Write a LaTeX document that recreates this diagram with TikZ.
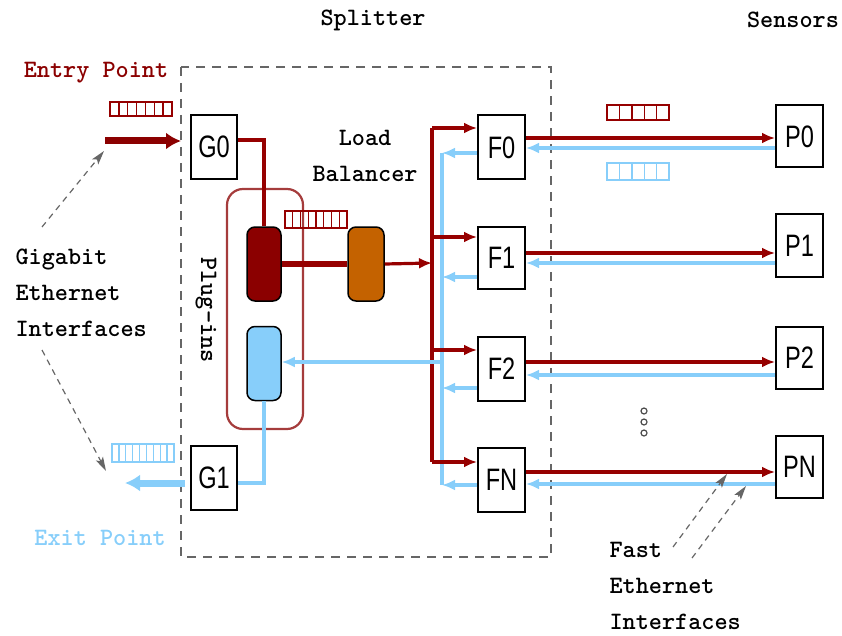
\documentclass[tikz,border=0pt]{standalone}
\usepackage{fontspec}
\usepackage{graphicx}
\setmainfont{Liberation Sans}
\newfontfamily\ttb[Extension=.otf]{lmmonolt10-bold}
\usetikzlibrary{arrows.meta,calc}
\definecolor{dred}{RGB}{150,0,0}
\definecolor{pred}{RGB}{139,0,0}
\definecolor{lblue}{RGB}{135,206,250}
\definecolor{lborange}{RGB}{196,98,0}
\definecolor{boxred}{RGB}{165,60,60}
\newcommand{\myqueue}[6]{%
  \draw[#6,line width=1.6pt] (#1,#2) rectangle (#3,#4);
  \foreach \k in {1,...,#5}{\draw[#6,line width=1.4pt] ({#1+(#3-#1)*\k/(#5+1)},#2) -- ({#1+(#3-#1)*\k/(#5+1)},#4);}}
\newcommand{\lbl}[1]{\scalebox{0.76}[1]{\fontsize{31}{31}\selectfont #1}}
\begin{document}
\begin{tikzpicture}[x=1pt,y=-1pt,
  ttext/.style={font=\ttb\fontsize{25}{36}\selectfont},
  unit/.style={draw=black,line width=2pt,fill=white,minimum width=46pt,minimum height=64pt,inner sep=0pt},
  plug/.style={draw=black,line width=1.5pt,rounded corners=8pt,minimum width=34pt,minimum height=74pt,inner sep=0pt},
  redl/.style={draw=dred,line width=3.2pt},
  bluel/.style={draw=lblue,line width=3.2pt},
  rarr/.style={redl,-{Latex[length=13pt,width=11pt]}},
  barr/.style={bluel,-{Latex[length=13pt,width=11pt]}},
  hint/.style={draw=gray!80!black,dashed,dash pattern=on 6pt off 5pt,line width=1.2pt,-{Stealth[length=14pt,width=8pt,inset=3pt]}}
]
\useasboundingbox (0,0) rectangle (842,636);
% titles
\node[ttext] (splt) at (373,20) {Splitter};
\node[ttext] (sens) at (793,20) {Sensors};
% splitter box
\draw[gray!80!black,line width=1.6pt,dash pattern=on 9pt off 7pt] (181,67) rectangle (551,557);
% plug-ins box
\draw[boxred,line width=2.2pt,rounded corners=16pt] (227,189) rectangle (303,429);
\node[ttext,rotate=-90] (plg) at (206,310) {Plug-ins};
% units
\node[unit] (G0) at (214,147) {\lbl{G0}};
\node[unit] (G1) at (214,478) {\lbl{G1}};
\node[unit,minimum width=47pt] (F0) at (501.5,147.5) {\lbl{F0}};
\node[unit,minimum width=47pt,minimum height=62pt] (F1) at (501.5,258) {\lbl{F1}};
\node[unit,minimum width=47pt] (F2) at (501.5,368.5) {\lbl{F2}};
\node[unit,minimum width=47pt] (FN) at (501.5,479.5) {\lbl{FN}};
\node[unit,minimum width=47pt,minimum height=62pt] (P0) at (799.5,136.5) {\lbl{P0}};
\node[unit,minimum width=47pt,minimum height=62pt] (P1) at (799.5,245.5) {\lbl{P1}};
\node[unit,minimum width=47pt,minimum height=62pt] (P2) at (799.5,358) {\lbl{P2}};
\node[unit,minimum width=47pt,minimum height=62pt] (PN) at (799.5,467) {\lbl{PN}};
% plug-ins and load balancer
\node[plug,fill=pred] (pr) at (264,264) {};
\node[plug,fill=lblue] (pb) at (264,363.5) {};
\node[plug,fill=lborange,minimum width=36pt] (lb) at (366,264) {};
\node[ttext,align=center] (lbt) at (365,156) {Load\\Balancer};
% queues
\myqueue{110}{102}{172}{116}{6}{dred}
\myqueue{285}{211}{347}{228}{7}{dred}
\myqueue{112}{444}{174}{462}{8}{lblue}
\myqueue{607}{105}{669}{120}{4}{dred}
\myqueue{607}{163}{669}{180}{4}{lblue}
% entry / exit
\coordinate (entry) at (105,141);
\coordinate (exitp) at (125,483);
\draw[draw=pred,line width=7pt,-{Latex[length=15pt,width=17pt]},shorten >=9pt] (entry) -- (G0.west |- entry);
\draw[draw=lblue,line width=7pt,-{Latex[length=15pt,width=17pt]}] ([xshift=-5pt]G1.west |- exitp) -- (exitp);
\node[ttext,text=pred] (ent) at (96,73) {Entry Point};
\node[ttext,text=lblue] (ext) at (100,538) {Exit Point};
% internal paths
\draw[redl] (G0.east |- 0,140) -| (pr.north);
\draw[draw=dred,line width=6pt] (pr.east) -- (lb.west);
\coordinate (rb) at (432,263);
\draw[rarr] (lb.east) -- (rb);
\draw[redl] (432,128) -- (432,462);
\draw[bluel] (442,153) -- (442,485);
\draw[rarr] (432,128) -- (F0.west |- 0,128);
\draw[rarr] (432,237) -- (F1.west |- 0,237);
\draw[rarr] (432,350) -- (F2.west |- 0,350);
\draw[rarr] (432,462) -- (FN.west |- 0,462);
\draw[barr] (F0.west |- 0,153) -- (442,153);
\draw[barr] (F1.west |- 0,277) -- (442,277);
\draw[barr] (F2.west |- 0,388) -- (442,388);
\draw[barr] (FN.west |- 0,485) -- (442,485);
\draw[barr] (442,362) -- (pb.east |- 0,362);
\draw[bluel] (pb.south) |- (G1.east |- 0,483);
% F <-> P links
\draw[rarr] (F0.east |- 0,138) -- (P0.west |- 0,138);
\draw[barr] (P0.west |- 0,148) -- (F0.east |- 0,148);
\draw[rarr] (F1.east |- 0,253) -- (P1.west |- 0,253);
\draw[barr] (P1.west |- 0,263) -- (F1.east |- 0,263);
\draw[rarr] (F2.east |- 0,362) -- (P2.west |- 0,362);
\draw[barr] (P2.west |- 0,375) -- (F2.east |- 0,375);
\draw[rarr] (FN.east |- 0,472) -- (PN.west |- 0,472);
\draw[barr] (PN.west |- 0,484) -- (FN.east |- 0,484);
% dots
\foreach \yy in {411,422,433} \draw[gray!60!black,line width=1.2pt] (644,\yy) circle (3pt);
% interface labels
\node[ttext,align=left,anchor=west] (gig) at (12,293) {Gigabit\\Ethernet\\Interfaces};
\node[ttext,align=left,anchor=west] (fast) at (606,586) {Fast\\Ethernet\\Interfaces};
\draw[hint] (42,227) -- (104,151);
\draw[hint] (42,350) -- (106,471);
\draw[hint] (673,547) -- (727,474);
\draw[hint] (692,558) -- (746,486);
\end{tikzpicture}
\end{document}
